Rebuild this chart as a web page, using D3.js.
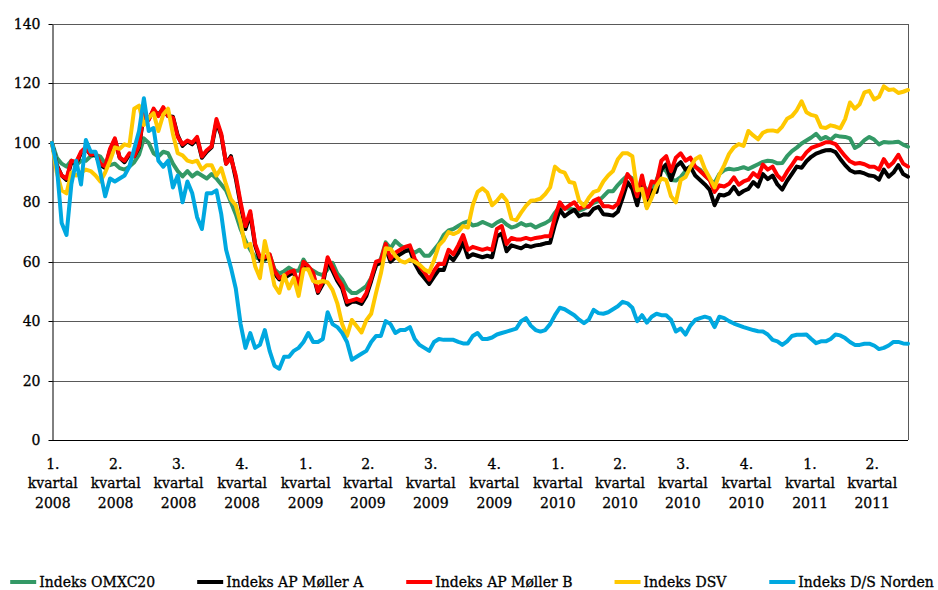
<!DOCTYPE html>
<html>
<head>
<meta charset="utf-8">
<script src="https://cdn.jsdelivr.net/npm/d3@7"></script>
<style>
  body { margin: 0; background: #fff; }
  svg text { font-family: "DejaVu Serif", "Liberation Serif", serif; fill: #000; stroke: #000; stroke-width: 0.3px; }
</style>
</head>
<body>
<svg id="chart" width="938" height="590"></svg>
<script>
// weekly index values (start = 100)

var firstWeek = "2008-01-02";

var yTicks = [0, 20, 40, 60, 80, 100, 120, 140];

var quarterStarts = ["2008-01-01", "2008-04-01", "2008-07-01", "2008-10-01",
                     "2009-01-01", "2009-04-01", "2009-07-01", "2009-10-01",
                     "2010-01-01", "2010-04-01", "2010-07-01", "2010-10-01",
                     "2011-01-01", "2011-04-01"];
var quarterNames = ["1.", "2.", "3.", "4.", "1.", "2.", "3.", "4.", "1.", "2.", "3.", "4.", "1.", "2."];
var quarterYears = ["2008", "2008", "2008", "2008", "2009", "2009", "2009", "2009",
                    "2010", "2010", "2010", "2010", "2011", "2011"];

var seriesNames = ["Indeks OMXC20", "Indeks AP Møller A", "Indeks AP Møller B", "Indeks DSV", "Indeks D/S Norden"];
var seriesColors = ["#339966", "#000000", "#ff0000", "#ffc800", "#00a8e0"];

var omxc20 = [
  100, 95, 93, 92, 94, 92.5, 94, 94, 95.5, 96,
  95.4, 93, 92.5, 93, 91.5, 91, 92, 93.5, 96, 101.5,
  100, 96.5, 95.4, 97, 96.5, 93, 90.5, 88.7, 90.5, 88.7,
  90, 89, 88, 89.5, 88, 86, 84, 80, 76, 71,
  67, 64, 61.5, 61, 60.5, 62.4, 57.5, 56, 56.8, 58,
  57, 57, 60.7, 58, 57, 56, 55.5, 57.5, 59.6, 56,
  54, 51, 49.5, 49.5, 50.6, 51.8, 54.5, 58.5, 61, 66.5,
  64.5, 67, 65.5, 64.5, 64, 63, 64, 62, 62, 64,
  66, 69, 70.5, 71, 72, 73, 73.6, 72.2, 72.5, 73.4,
  72.7, 72, 73.2, 74, 72.5, 71.5, 72, 73, 72.2, 72.5,
  71.5, 72.3, 73, 74, 76.5, 78.5, 78, 77.8, 77.5, 77.2,
  77.8, 78.7, 79.8, 80.4, 82, 83.7, 83.7, 85.8, 87.5, 89,
  88, 83, 86, 84.3, 84, 87.5, 91.5, 90.5, 87.5, 87.3,
  88.5, 90.5, 92, 92, 91, 89, 87.5, 86.5, 89.5, 90.8,
  91.3, 91, 91.3, 91.8, 91.2, 92, 92.8, 93.6, 94, 93.8,
  93.1, 93.2, 95.5, 97.2, 98.4, 99.8, 100.8, 101.8, 103, 101.2,
  102, 101, 102.5, 102.1, 102, 101.5, 98.3, 99.2, 100.9, 102,
  101.1, 99.5, 100.3, 100.1, 100.2, 100.4, 99.4, 98.7
];

var apMollerA = [
  100, 92.5, 89, 87.5, 93.5, 93, 96.5, 98, 96, 96,
  92.5, 91.5, 97.5, 101, 95, 93.5, 96, 95.5, 98.5, 110,
  108, 111, 109.5, 111.5, 109, 108.8, 102.5, 99, 100.5, 99.5,
  101.5, 95, 97, 98.5, 107, 102.5, 93, 95.5, 88, 79,
  71, 76, 65.5, 60.5, 61, 61.5, 56, 54, 54.5, 55.5,
  56.5, 51, 59, 57.5, 55.5, 49.5, 52.5, 60.5, 57, 53.5,
  51, 45.5, 46.5, 46.5, 45.8, 48.5, 53.5, 59, 59.5, 64.5,
  60, 61.5, 62.5, 63.5, 64, 59.5, 56.5, 54.5, 52.5, 55,
  57.3, 57.2, 62, 60.5, 63, 66.5, 61.5, 62.5, 62, 61.5,
  62, 61.5, 68.5, 69.5, 63.5, 65.5, 65, 64.5, 65.5, 65,
  65.5, 65.7, 66.2, 66.4, 72.5, 77.5, 75.3, 76.5, 77.5, 75.3,
  76, 75.8, 77.8, 78.5, 76, 75.8, 75.5, 76.8, 81.5, 86.8,
  84.5, 79, 86, 78.5, 84, 83.5, 91, 92.8, 87.5, 92,
  93.5, 91, 92, 89, 87.5, 86, 84.2, 79, 82.5, 82.3,
  83, 85.2, 82.7, 83.8, 84.5, 86.8, 85.3, 89.5, 87.8, 89,
  86, 84.3, 87.2, 89.6, 92, 91.6, 93.8, 95.3, 96.4, 97,
  97.5, 97.6, 96.9, 94.6, 92.5, 90.8, 90, 90.2, 89.7, 89,
  88.8, 87.6, 91, 88.6, 90, 92.5, 89.5, 88.6
];

var apMollerB = [
  100, 92, 89, 88, 94, 93.5, 97, 98.5, 96, 96.5,
  93, 92, 98, 101.5, 95, 94, 96.5, 95.5, 99, 110.5,
  107.7, 111.5, 109, 112, 109, 108.5, 102, 99.5, 100.8, 100,
  102, 95.4, 97.5, 98.8, 108, 103, 93, 95, 89, 80,
  72, 77, 66, 61.5, 61.5, 62.5, 57, 54.5, 55.3, 56.5,
  57, 52, 60, 58.5, 56.3, 50, 53.5, 61.5, 58, 54.5,
  52, 46.5, 47, 47.5, 46.8, 49.5, 54.5, 60, 60.5, 66,
  61, 63, 64, 65, 65.5, 61, 58.5, 56.5, 54, 57,
  59.3, 59.2, 64, 62.5, 65.5, 69, 64, 65, 64.5, 64,
  64.5, 64, 71, 72, 66, 68, 67.5, 67.5, 68, 67.5,
  68, 68.2, 68.6, 68.6, 75, 80, 77.8, 79, 80, 77.8,
  78.7, 78.5, 80.5, 81.3, 78.7, 78.7, 78.2, 79.5, 84, 89.5,
  87.2, 82, 89, 81.5, 87, 86.5, 94, 95.5, 90.5, 95,
  96.5, 94, 95, 92, 90.5, 89, 87.5, 83.5, 85.7, 85.3,
  86.2, 88.4, 85.9, 87, 87.6, 89.8, 88.5, 92.7, 91, 92,
  89, 87.5, 90.3, 92.6, 95, 94.6, 96.8, 98.3, 98.9, 99.5,
  100.2, 100.2, 99.6, 97.5, 95.5, 93.8, 93, 93.2, 92.8, 92,
  92, 91, 94.5, 92, 93.5, 96, 93, 92
];

var dsv = [
  100, 90, 84, 83, 90, 89, 90, 91, 90.5, 89,
  87, 90, 94, 98.5, 98, 99.5, 99, 111.5, 112.5, 106,
  108.5, 110, 104, 109.5, 111.5, 103, 96.5, 95.8, 94, 93.5,
  94, 91, 92.5, 92.5, 89, 91.5, 86, 81, 79, 73,
  65, 66, 58.5, 54.5, 67, 60, 52, 49.5, 55.5, 51,
  54.5, 48.5, 57.5, 57.5, 53.5, 53, 53.5, 53, 50.5, 46,
  39, 35, 40.4, 38.3, 36.2, 40.3, 42.5, 49.5, 56, 64.5,
  64.3, 62, 60.3, 59.7, 60.7, 60, 59, 57.4, 56.5, 60.5,
  65.5, 67.2, 70, 69.3, 70, 72, 71.5, 79, 83.5, 84.7,
  83.3, 79, 80.5, 82.5, 80.5, 74.5, 74, 76.5, 78.8, 80.5,
  80.7, 81.2, 82.8, 85, 92, 90.5, 90, 86.8, 86.5, 80.5,
  78.8, 81.5, 83.5, 84, 87, 89, 90.5, 94.5, 96.5, 96.5,
  95.5, 84, 84.5, 78, 81.5, 85.5, 88, 87.5, 82, 80,
  87.5, 88.5, 91.8, 94.5, 95.5, 91.2, 88.2, 85, 89.3, 92.5,
  96.3, 98.5, 99.6, 99, 104, 102.5, 101.2, 103.4, 104.1, 104.2,
  103.8, 105.5, 108.1, 109, 111, 114, 110.3, 109.4, 109, 105.3,
  105, 105.9, 105.5, 104.9, 108, 113.6, 111.5, 113, 117, 117.5,
  114.6, 115.5, 119, 117.8, 118, 116.8, 117.2, 117.8
];

var dsNorden = [
  100, 92, 73, 69, 86, 94, 86, 101, 97, 97,
  90, 82, 88, 87, 88, 89, 92, 98, 104, 115,
  104, 105, 94, 92, 94, 85, 89, 80, 87, 83,
  75, 71, 83, 83, 84, 76, 64, 58, 51, 39,
  31, 36, 31, 32, 37, 30, 25, 24, 28, 28,
  30, 31, 33, 36, 33, 33, 34, 43, 39, 38,
  36, 33, 27, 28, 29, 30, 33, 35, 35, 40,
  39, 36, 37, 37, 38, 34, 32, 31, 30, 33,
  34, 33.7, 33.7, 33.7, 33, 32.5, 32.5, 35, 36, 34,
  34, 34.5, 35.5, 36, 36.5, 37, 37.5, 40, 41, 38.5,
  37, 36.5, 37, 39, 42, 44.5, 44, 43, 42, 40.5,
  39.3, 40.5, 43.8, 42.7, 42.5, 43, 44, 45, 46.5, 46,
  44.5, 40, 42, 39.5, 41.5, 42.5, 42, 42, 40.5, 36.5,
  37.5, 35.5, 38.5, 40.4, 41, 41.5, 41, 38, 41.5, 41,
  40, 39.2, 38.6, 38, 37.5, 37, 36.6, 36.5, 35.5, 33.7,
  33.2, 32, 33.2, 35, 35.4, 35.4, 35.5, 34, 32.6, 33.2,
  33.2, 34, 35.5, 35.2, 34.3, 33, 32, 32, 32.4, 32.4,
  31.8, 30.6, 31, 31.8, 33, 33, 32.5, 32.4
];

var allSeries = [omxc20, apMollerA, apMollerB, dsv, dsNorden];

var parseDate = d3.timeParse("%Y-%m-%d");
var start = parseDate(firstWeek);
var dates = omxc20.map(function(d, i) { return d3.timeDay.offset(start, 7 * i); });

var svg = d3.select("#chart");
var plotLeft = 52, plotRight = 908, plotTop = 24, plotBottom = 440;
var fontSize = "14px";

var x = d3.scaleTime()
  .domain([dates[0], dates[dates.length - 1]])
  .range([plotLeft, plotRight]);

var y = d3.scaleLinear()
  .domain([0, 140])
  .range([plotBottom, plotTop]);

// gridlines
svg.append("g")
  .selectAll("line")
  .data(yTicks.filter(function(t) { return t > 0; }))
  .enter().append("line")
  .attr("x1", plotLeft)
  .attr("x2", plotRight)
  .attr("y1", function(d) { return Math.round(y(d)) + 0.5; })
  .attr("y2", function(d) { return Math.round(y(d)) + 0.5; })
  .style("stroke", "#595959")
  .style("stroke-width", 1);

// right border of the plot area
svg.append("line")
  .attr("x1", plotRight + 0.5).attr("x2", plotRight + 0.5)
  .attr("y1", plotTop).attr("y2", plotBottom)
  .style("stroke", "#595959");

// y axis
var yAxis = svg.append("g")
  .attr("transform", "translate(" + (plotLeft + 0.5) + ",0.5)")
  .call(d3.axisLeft(y).tickValues(yTicks).tickSize(4).tickSizeOuter(0).tickPadding(8));
yAxis.attr("font-family", null);
yAxis.selectAll("text").style("font-size", fontSize);
yAxis.selectAll("line").style("stroke", "#000");
yAxis.select(".domain").style("stroke", "#000");
yAxis.selectAll(".tick").attr("transform", function(d) { return "translate(0," + Math.round(y(d)) + ")"; });

// x axis line
svg.append("line")
  .attr("x1", plotLeft).attr("x2", plotRight)
  .attr("y1", plotBottom + 0.5).attr("y2", plotBottom + 0.5)
  .style("stroke", "#000");

// quarter labels
var qLabel = svg.append("g").selectAll("text")
  .data(quarterStarts)
  .enter().append("text")
  .style("font-size", fontSize)
  .style("text-anchor", "middle")
  .attr("transform", function(d) { return "translate(" + (x(parseDate(d)) + 1.5) + ",0)"; });

qLabel.append("tspan").attr("x", 0).attr("y", 468.5).text(function(d, i) { return quarterNames[i]; });
qLabel.append("tspan").attr("x", 0).attr("y", 488).text("kvartal");
qLabel.append("tspan").attr("x", 0).attr("y", 507.5).text(function(d, i) { return quarterYears[i]; });

// series lines
var line = d3.line()
  .x(function(d, i) { return x(dates[i]); })
  .y(function(d) { return y(d); });

svg.append("g")
  .selectAll("path")
  .data(allSeries)
  .enter().append("path")
  .attr("d", line)
  .style("fill", "none")
  .style("stroke", function(d, i) { return seriesColors[i]; })
  .style("stroke-width", 4)
  .style("stroke-linejoin", "round")
  .style("stroke-linecap", "round");

// legend, laid out by text width with even gaps
var legend = svg.append("g");
var items = legend.selectAll(".legend")
  .data(seriesNames)
  .enter().append("g")
  .attr("class", "legend");

items.append("line")
  .attr("x1", 0).attr("x2", 26)
  .attr("y1", 582).attr("y2", 582)
  .style("stroke", function(d, i) { return seriesColors[i]; })
  .style("stroke-width", 4);

items.append("text")
  .attr("x", 29)
  .attr("y", 587)
  .style("font-size", fontSize)
  .text(function(d) { return d; });

var widths = [];
items.each(function() { widths.push(this.getBBox().width); });
var gap = 42;
var total = d3.sum(widths) + gap * (widths.length - 1);
var pos = (7 + 937) / 2 - total / 2;
items.attr("transform", function(d, i) {
  var p = pos;
  pos += widths[i] + gap;
  return "translate(" + p + ",0)";
});
</script>
</body>
</html>
